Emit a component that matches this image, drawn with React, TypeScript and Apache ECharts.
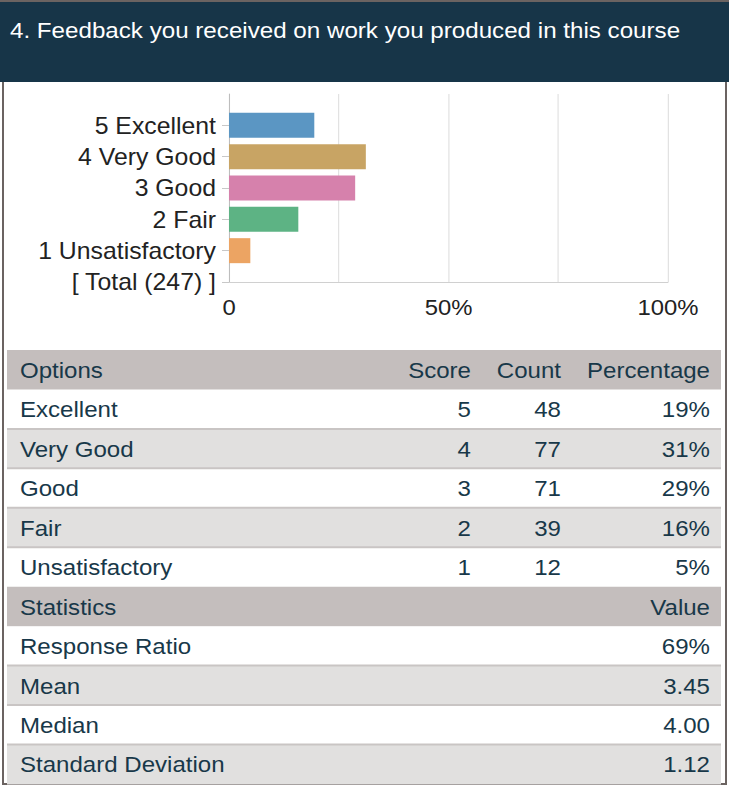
import React, { useEffect, useRef } from "react";
import * as echarts from "echarts";

// ---- data ----
const titleText = "4. Feedback you received on work you produced in this course";
const optionLabels = ["5 Excellent", "4 Very Good", "3 Good", "2 Fair", "1 Unsatisfactory"];
const totalLabel = "[ Total (247) ]";
const barPercents = [19.43, 31.17, 28.74, 15.79, 4.86];
const barColors = ["#5b96c3", "#c8a464", "#d681ac", "#5db384", "#eca463"];
const xTickLabels = ["0", "", "50%", "", "100%"];

const optionHeaders = ["Options", "Score", "Count", "Percentage"];
const tableOptions = ["Excellent", "Very Good", "Good", "Fair", "Unsatisfactory"];
const tableScores = ["5", "4", "3", "2", "1"];
const tableCounts = ["48", "77", "71", "39", "12"];
const tablePercents = ["19%", "31%", "29%", "16%", "5%"];
const statHeaders = ["Statistics", "Value"];
const statNames = ["Response Ratio", "Mean", "Median", "Standard Deviation"];
const statValues = ["69%", "3.45", "4.00", "1.12"];

// ---- layout ----
const S = 1.06; // horizontal stretch of the reference
const W = 729 / S;
const H = 786;
const FONT = '"Liberation Sans", Arial, Helvetica, sans-serif';
const TXT = "#183849";
const HEAD_BG = "#c4bebd";
const ALT_BG = "#e1e0df";
const SEP = "#c9c5c4";
const BORDER = "#6b6361";

function X(px: number) {
  return px / S;
}

function buildGraphics() {
  const els: any[] = [];
  // header band
  els.push({ type: "rect", shape: { x: 0, y: 0, width: W, height: 82 }, style: { fill: "#173548" } });
  els.push({ type: "rect", shape: { x: 0, y: 0, width: W, height: 2 }, style: { fill: BORDER } });
  els.push({
    type: "text",
    x: X(10),
    y: 30.5,
    style: { text: titleText, fill: "#ffffff", fontSize: 22.8, fontFamily: FONT, align: "left", verticalAlign: "middle" },
  });
  // borders
  els.push({ type: "rect", shape: { x: X(2), y: 82, width: X(2), height: 703 }, style: { fill: BORDER } });
  els.push({ type: "rect", shape: { x: X(725), y: 82, width: X(2), height: 703 }, style: { fill: BORDER } });
  els.push({ type: "rect", shape: { x: X(2), y: 783, width: X(725), height: 2 }, style: { fill: BORDER } });

  // table
  const top = 350;
  const rh = 39.45;
  const tx0 = X(7);
  const tw = X(714);
  const rows: { kind: string; cells: string[] }[] = [];
  rows.push({ kind: "head", cells: optionHeaders });
  tableOptions.forEach((o, i) =>
    rows.push({ kind: "data", cells: [o, tableScores[i], tableCounts[i], tablePercents[i]] })
  );
  rows.push({ kind: "head", cells: statHeaders });
  statNames.forEach((s, i) => rows.push({ kind: "data", cells: [s, statValues[i]] }));

  let dataIdx = 0;
  rows.forEach((r, i) => {
    const y = top + i * rh;
    let fill = "#ffffff";
    if (r.kind === "head") {
      fill = HEAD_BG;
      dataIdx = 0;
    } else {
      fill = dataIdx % 2 === 1 ? ALT_BG : "#ffffff";
    }
    els.push({ type: "rect", shape: { x: tx0, y, width: tw, height: rh + 0.5 }, style: { fill } });
    if (r.kind === "data" && dataIdx > 0) {
      els.push({ type: "rect", shape: { x: tx0, y: y - 1, width: tw, height: 2 }, style: { fill: SEP } });
    }
    if (r.kind === "data") dataIdx++;
    const cy = y + rh / 2 + 0.5;
    const rights = r.cells.length === 4 ? [471, 561, 710] : [710];
    els.push({
      type: "text",
      x: X(20),
      y: cy,
      style: { text: r.cells[0], fill: TXT, fontSize: 22.7, fontFamily: FONT, align: "left", verticalAlign: "middle" },
    });
    r.cells.slice(1).forEach((c, j) => {
      els.push({
        type: "text",
        x: X(rights[j]),
        y: cy,
        style: { text: c, fill: TXT, fontSize: 22.7, fontFamily: FONT, align: "right", verticalAlign: "middle" },
      });
    });
  });
  return els;
}

export default function App() {
  const ref = useRef<HTMLDivElement>(null);
  useEffect(() => {
    if (!ref.current) return;
    const chart = echarts.init(ref.current, null, { renderer: "svg" });
    const cats = [totalLabel, ...optionLabels.slice().reverse(), ""];
    const revPerc = barPercents.slice().reverse();
    const revCol = barColors.slice().reverse();
    const barData: any[] = ["-"];
    revPerc.forEach((v, i) => barData.push({ value: v, itemStyle: { color: revCol[i] } }));
    barData.push("-");

    chart.setOption({
      animation: false,
      backgroundColor: "#ffffff",
      grid: { left: X(229), top: 94, width: X(439), height: 188, containLabel: false },
      xAxis: {
        type: "value",
        min: 0,
        max: 100,
        interval: 25,
        axisLine: { show: true, lineStyle: { color: "#d0d0d0", width: 1 } },
        axisTick: { show: false },
        splitLine: { show: true, lineStyle: { color: "#dedede", width: 1 } },
        axisLabel: {
          formatter: (v: number) => xTickLabels[Math.round(v / 25)],
          fontSize: 22.5,
          fontFamily: FONT,
          color: "#222222",
          margin: 14,
          showMinLabel: true,
          showMaxLabel: true,
        },
      },
      yAxis: {
        type: "category",
        data: cats,
        boundaryGap: false,
        axisLine: { show: true, lineStyle: { color: "#bdbdbd", width: 1 } },
        axisTick: {
          show: true,
          length: X(7),
          interval: (_i: number, v: string) => v !== "",
          lineStyle: { color: "#c8c8c8" },
        },
        axisLabel: {
          interval: 0,
          fontSize: 23.4,
          fontFamily: FONT,
          color: "#222222",
          margin: X(13),
        },
        splitLine: { show: false },
      },
      series: [
        {
          type: "bar",
          data: barData,
          barWidth: 25,
          silent: true,
        },
      ],
      graphic: { elements: buildGraphics() },
    });
    return () => chart.dispose();
  }, []);

  return (
    <div
      style={{
        position: "absolute",
        left: 0,
        top: 0,
        width: W,
        height: H,
        transform: `scaleX(${S})`,
        transformOrigin: "0 0",
      }}
    >
      <div ref={ref} style={{ width: W, height: H }} />
    </div>
  );
}
